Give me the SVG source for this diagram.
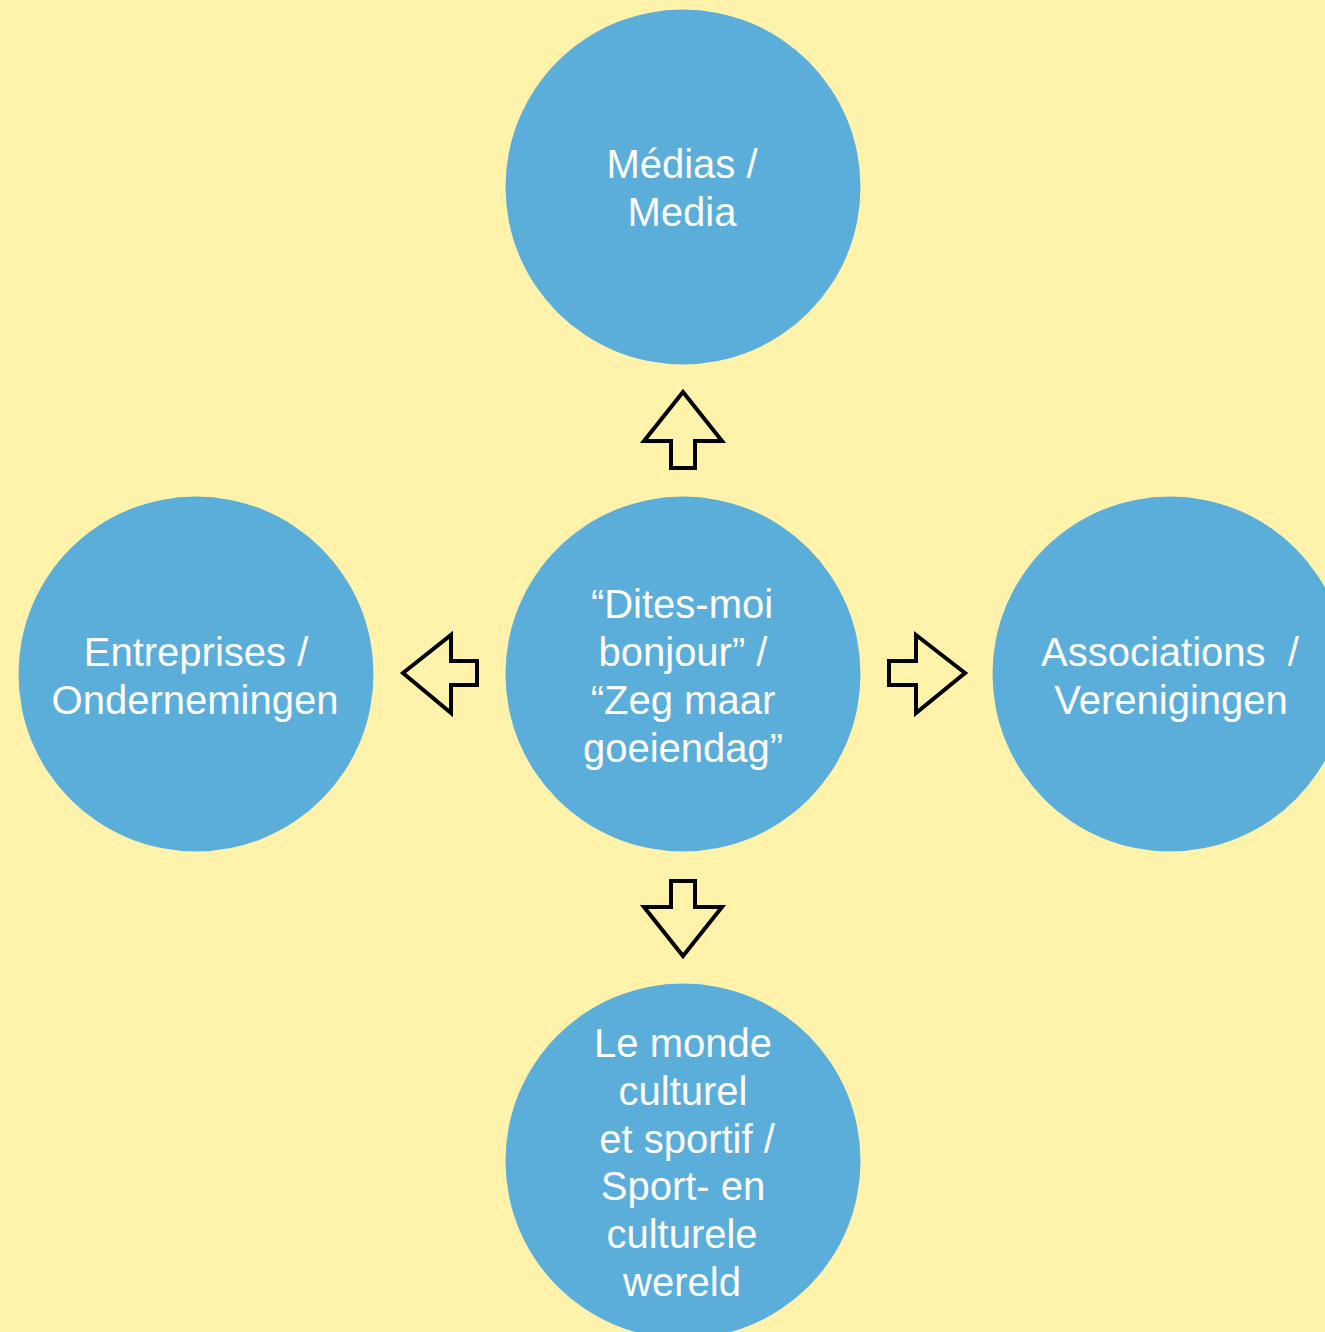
<svg xmlns="http://www.w3.org/2000/svg" width="1325" height="1332" viewBox="0 0 1325 1332">
<style>
.n{fill:#5BADDA}
.t{font-family:"Liberation Sans",Arial,sans-serif;font-size:40px;fill:#FFFFFF;text-anchor:middle}
.a{fill:none;stroke:#000000;stroke-width:4;stroke-linejoin:miter}
</style>
<rect x="0" y="0" width="1325" height="1332" fill="#FFF2AB"/>
<g id="node-medias">
<circle class="n" cx="683" cy="187" r="177.5"/>
<text class="t"><tspan x="682" y="178">Médias /</tspan><tspan x="682" y="226">Media</tspan></text>
</g>
<g id="node-center">
<circle class="n" cx="683" cy="674" r="177.5"/>
<text class="t"><tspan x="682" y="618">“Dites-moi</tspan><tspan x="683" y="666">bonjour” /</tspan><tspan x="683" y="714">“Zeg maar</tspan><tspan x="683" y="762">goeiendag”</tspan></text>
</g>
<g id="node-entreprises">
<circle class="n" cx="196" cy="674" r="177.5"/>
<text class="t"><tspan x="196" y="666">Entreprises /</tspan><tspan x="195" y="714">Ondernemingen</tspan></text>
</g>
<g id="node-associations">
<circle class="n" cx="1170" cy="674" r="177.5"/>
<text class="t"><tspan x="1170" y="666">Associations&#160; /</tspan><tspan x="1171" y="714">Verenigingen</tspan></text>
</g>
<g id="node-culture">
<circle class="n" cx="683" cy="1161" r="177.5"/>
<text class="t"><tspan x="683" y="1057">Le monde</tspan><tspan x="683" y="1105">culturel</tspan><tspan x="687" y="1153">et sportif /</tspan><tspan x="683" y="1200">Sport- en</tspan><tspan x="682" y="1248">culturele</tspan><tspan x="682" y="1296">wereld</tspan></text>
</g>
<g id="connectors">
<path class="a" d="M683,392 L722,441 L695,441 L695,468 L671,468 L671,441 L644,441 Z"/>
<path class="a" d="M683,956 L722,907 L695,907 L695,881 L671,881 L671,907 L644,907 Z"/>
<path class="a" d="M403,673 L451,635 L451,661 L477,661 L477,685 L451,685 L451,713 Z"/>
<path class="a" d="M965,673 L916,635 L916,661 L889,661 L889,685 L916,685 L916,713 Z"/>
</g>
</svg>
